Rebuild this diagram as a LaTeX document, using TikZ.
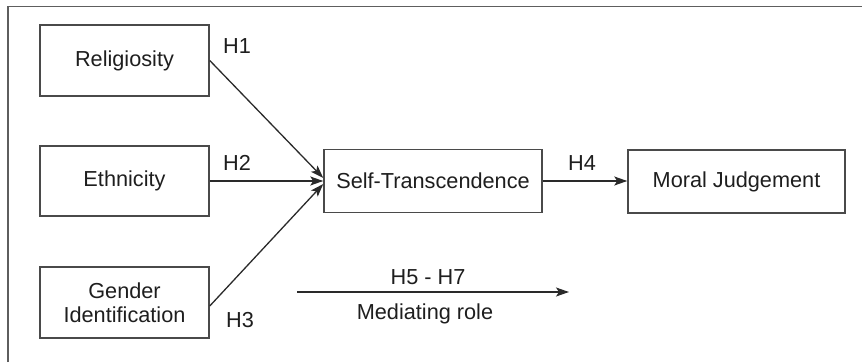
\documentclass[tikz,border=0pt]{standalone}
\usepackage{fontspec}
\setmainfont{Liberation Sans}
\usetikzlibrary{arrows.meta,calc}
\definecolor{framec}{HTML}{5E5E5E}
\definecolor{boxc}{HTML}{4A4A4A}
\definecolor{txtc}{HTML}{1E1E1E}
\definecolor{arrc}{HTML}{2A2A2A}
\tikzset{
  box/.style={draw=boxc, line width=1.5pt, inner sep=0pt, align=center, text=txtc,
    font=\fontsize{21.7}{23.5}\selectfont},
  lbl/.style={inner sep=0pt, text=txtc, font=\fontsize{21.7}{23.5}\selectfont},
  arr/.style={draw=arrc, line width=1.3pt, -{Stealth[length=13pt,width=9pt,inset=3pt]}},
}
\begin{document}
\begin{tikzpicture}[x=1pt,y=-1pt]
\useasboundingbox (0,0) rectangle (862,362);
\draw[framec, line width=1.6pt] (8,362) -- (8,6.5) -- (862,6.5);
\node[box, minimum width=169pt, minimum height=71pt] (rel) at (124.5,60.5) {Religiosity};
\node[box, minimum width=169pt, minimum height=70pt] (eth) at (124.5,181) {Ethnicity};
\node[box, minimum width=169pt, minimum height=71pt] (gen) at (124.5,302.5) {Gender\\Identification};
\node[box, minimum width=218pt, minimum height=63pt] (st) at (433,181) {Self-Transcendence};
\node[box, minimum width=217pt, minimum height=63pt] (mj) at (736.5,181.5) {Moral Judgement};
\draw[arr] (rel.east) -- ($(st.west)+(0,-3)$);
\draw[arr] (eth.east) -- (st.west);
\draw[arr] ($(gen.east)+(0,3.5)$) -- ($(st.west)+(0,3)$);
\draw[arr] (st.east) -- (mj.west |- st.east);
\node[lbl] (h1) at (237,46) {H1};
\node[lbl] (h2) at (237,163) {H2};
\node[lbl] (h3) at (240,320) {H3};
\node[lbl] (h4) at (582,163) {H4};
\coordinate (ms) at (297,292);
\coordinate (me) at (569,292);
\draw[arr] (ms) -- (me);
\node[lbl] (h57) at (428,277) {H5 - H7};
\node[lbl] (med) at (425,314) {Mediating role};
\end{tikzpicture}
\end{document}
